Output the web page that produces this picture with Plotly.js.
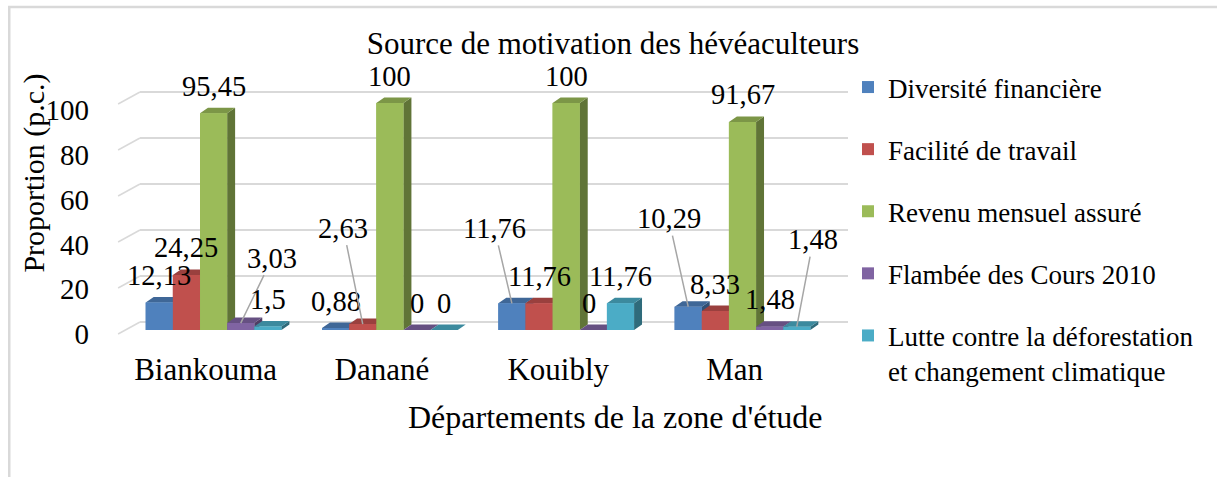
<!DOCTYPE html>
<html>
<head>
<meta charset="utf-8">
<script src="https://cdn.plot.ly/plotly-3.0.1.min.js"></script>
<style>
  html, body { margin: 0; padding: 0; background: #fff; }
  #chart { width: 1217px; height: 477px; }
</style>
</head>
<body>
<div id="chart"></div>
<script>
// ---------- DATA ----------
const categories = ['Biankouma', 'Danané', 'Kouibly', 'Man'];
const seriesNames = [
  'Diversité financière',
  'Facilité de travail',
  'Revenu mensuel assuré',
  'Flambée des Cours 2010',
  'Lutte contre la déforestation<br>et changement climatique'
];
const diversiteFinanciere = [12.13, 0.88, 11.76, 10.29];
const faciliteTravail     = [24.25, 2.63, 11.76, 8.33];
const revenuMensuel       = [95.45, 100, 100, 91.67];
const flambeeCours        = [3.03, 0, 0, 1.48];
const lutteDeforestation  = [1.5, 0, 11.76, 1.48];
const yTickValues = [0, 20, 40, 60, 80, 100];

const chartTitle = 'Source de motivation des hévéaculteurs';
const xTitle = "Départements de la zone d'étude";
const yTitle = 'Proportion (p.c.)';

// ---------- STYLE ----------
const seriesValues = [diversiteFinanciere, faciliteTravail, revenuMensuel, flambeeCours, lutteDeforestation];
const colors = ['#4F81BD', '#C0504D', '#9BBB59', '#8064A2', '#4BACC6'];
const FONT = 'Liberation Serif';

// pixel geometry of plot area
const W = 1217, H = 477;
const PL = 140, PR = 852, PT = 85, PB = 340;
const plotW = PR - PL, plotH = PB - PT;
const catPx = 177.3;          // px per category
const yPx = 2.27;             // px per unit (front faces)
const zeroPx = 330;           // front baseline
const xRange = [-(214 - PL) / catPx, -(214 - PL) / catPx + plotW / catPx];
const yRange = [-(PB - zeroPx) / yPx, (zeroPx - PT) / yPx];
// back wall grid axis
const gPx = 2.3, gZero = 322;
const y2Range = [-(PB - gZero) / gPx, (gZero - PT) / gPx];
// tick label axis
const lPx = 2.24, lZero = 334;
const y3Range = [-(PB - lZero) / lPx, (lZero - PT) / lPx];
// category label axis (shifted 8px left)
const x2Start = -(206 - PL) / catPx;
const x2Range = [x2Start, x2Start + plotW / catPx];

const nS = seriesValues.length;
const bargap = 0.23;
const barW = (1 - bargap) / nS;
const depthX = 8 / catPx;
const depthY = 5.5 / yPx;

function shade(hex, f) {
  const n = parseInt(hex.slice(1), 16);
  const r = Math.round(((n >> 16) & 255) * f);
  const g = Math.round(((n >> 8) & 255) * f);
  const b = Math.round((n & 255) * f);
  return `rgb(${r},${g},${b})`;
}
const px2paperX = p => (p - PL) / plotW;
const px2paperY = p => (PB - p) / plotH;

const xIdx = categories.map((c, i) => i);

const traces = [];
// bar traces (legend + base)
seriesValues.forEach((vals, j) => {
  traces.push({
    type: 'bar', x: xIdx, y: vals, name: seriesNames[j],
    marker: { color: colors[j], line: { width: 0 } },
    legendgroup: 'g' + j, hovertext: categories, hoverinfo: 'text+y',
    xaxis: 'x', yaxis: 'y'
  });
});
// pseudo-3D faces drawn over, in depth order
seriesValues.forEach((vals, j) => {
  const side = { x: [], y: [] }, top = { x: [], y: [] }, front = { x: [], y: [] };
  vals.forEach((v, i) => {
    const xl = i - (1 - bargap) / 2 + j * barW;
    const xr = xl + barW;
    side.x.push(xr, xr, xr + depthX, xr + depthX, xr, null);
    side.y.push(0, v, v + depthY, depthY, 0, null);
    top.x.push(xl, xr, xr + depthX, xl + depthX, xl, null);
    top.y.push(v, v, v + depthY, v + depthY, v, null);
    front.x.push(xl, xr, xr, xl, xl, null);
    front.y.push(0, 0, v, v, 0, null);
  });
  [[side, shade(colors[j], 0.62)], [top, shade(colors[j], 0.8)], [front, colors[j]]].forEach(([p, c]) => {
    traces.push({
      type: 'scatter', mode: 'lines', x: p.x, y: p.y, fill: 'toself',
      fillcolor: c, line: { width: 0, color: c }, showlegend: false,
      hoverinfo: 'skip', xaxis: 'x', yaxis: 'y'
    });
  });
});
// dummy traces to activate overlay axes
traces.push({ type: 'scatter', x: [0], y: [50], mode: 'markers', marker: { opacity: 0 },
  showlegend: false, hoverinfo: 'skip', xaxis: 'x', yaxis: 'y2' });
traces.push({ type: 'scatter', x: [0], y: [50], mode: 'markers', marker: { opacity: 0 },
  showlegend: false, hoverinfo: 'skip', xaxis: 'x2', yaxis: 'y3' });

// data labels
const leaderOffsets = {
  '3-0': [31.5, -65],
  '1-1': [-19.5, -96],
  '0-2': [-17.5, -75],
  '0-3': [-19.5, -88],
  '4-3': [16.5, -87]
};
const labelXShift = { '3-2': -4 };
const annotations = [];
seriesValues.forEach((vals, j) => {
  vals.forEach((v, i) => {
    const xc = i - (1 - bargap) / 2 + (j + 0.5) * barW;
    const txt = String(v).replace('.', ',');
    const key = j + '-' + i;
    const off = leaderOffsets[key];
    const a = {
      x: xc, y: v, xref: 'x', yref: 'y', text: txt,
      font: { family: FONT, size: 28.5, color: '#000' }
    };
    if (off) {
      Object.assign(a, { showarrow: true, arrowhead: 0, arrowwidth: 1.5, arrowcolor: '#a6a6a6',
        ax: off[0], ay: off[1], axref: 'pixel', ayref: 'pixel', standoff: 0 });
    } else {
      Object.assign(a, { showarrow: false, yanchor: 'middle', xanchor: 'center', yshift: 27,
        xshift: labelXShift[key] || 0 });
    }
    annotations.push(a);
  });
});
annotations.push({
  text: xTitle, xref: 'paper', yref: 'paper', x: px2paperX(618), y: px2paperY(417),
  showarrow: false, xanchor: 'center', yanchor: 'middle', font: { family: FONT, size: 32, color: '#000' }
});
annotations.push({
  text: yTitle, xref: 'paper', yref: 'paper', x: px2paperX(33), y: px2paperY(173), textangle: -90,
  showarrow: false, xanchor: 'center', yanchor: 'middle', font: { family: FONT, size: 30, color: '#000' }
});

// decorative shapes: frame + side-wall grid slants
const shapes = [];
shapes.push({
  type: 'path', xref: 'paper', yref: 'paper', layer: 'below',
  path: `M ${px2paperX(8.5)} ${px2paperY(490)} L ${px2paperX(8.5)} ${px2paperY(7)} L ${px2paperX(1230)} ${px2paperY(7)}`,
  line: { color: '#d9d9d9', width: 2.5 }
});
yTickValues.forEach(v => {
  const yp = gZero - gPx * v;
  shapes.push({
    type: 'line', xref: 'paper', yref: 'paper', layer: 'below',
    x0: px2paperX(118), y0: px2paperY(yp + 12), x1: px2paperX(PL), y1: px2paperY(yp),
    line: { color: '#d9d9d9', width: 1.5 }
  });
});

const layout = {
  width: W, height: H,
  margin: { l: PL, r: W - PR, t: PT, b: H - PB, pad: 0 },
  paper_bgcolor: '#fff', plot_bgcolor: 'rgba(0,0,0,0)',
  font: { family: FONT, color: '#000' },
  barmode: 'group', bargap: bargap, bargroupgap: 0,
  showlegend: true,
  title: {
    text: chartTitle, font: { family: FONT, size: 31, color: '#000' },
    xref: 'container', yref: 'container', x: 613 / W, y: 1 - 43 / H,
    xanchor: 'center', yanchor: 'middle'
  },
  xaxis: { type: 'linear', range: xRange, showgrid: false, zeroline: false,
    showticklabels: false, ticks: '', showline: false, fixedrange: true },
  xaxis2: { type: 'linear', range: x2Range, overlaying: 'x', anchor: 'y3', side: 'bottom',
    tickvals: xIdx, ticktext: categories, showgrid: false, zeroline: false, showline: false,
    ticks: '', ticklabelstandoff: 8, tickfont: { family: FONT, size: 31, color: '#000' } },
  yaxis: { range: yRange, showgrid: false, zeroline: false, showticklabels: false,
    ticks: '', showline: false, fixedrange: true },
  yaxis2: { range: y2Range, overlaying: 'y', anchor: 'x', tickvals: yTickValues,
    showticklabels: false, showgrid: true, gridcolor: '#d9d9d9', gridwidth: 1.5,
    zeroline: false, ticks: '', showline: false },
  yaxis3: { range: y3Range, overlaying: 'y', anchor: 'x2', side: 'left', tickvals: yTickValues,
    showgrid: false, zeroline: false, ticks: '', showline: false, ticklabelstandoff: 50,
    tickfont: { family: FONT, size: 29, color: '#000' } },
  legend: {
    xref: 'container', yref: 'container', x: 848 / W, y: 1 - 63 / H,
    xanchor: 'left', yanchor: 'top', traceorder: 'grouped', tracegroupgap: 24,
    valign: 'top', font: { family: FONT, size: 27, color: '#000' },
    bgcolor: 'rgba(0,0,0,0)', borderwidth: 0, maxheight: 420
  },
  annotations: annotations,
  shapes: shapes
};

Plotly.newPlot('chart', traces, layout, { displayModeBar: false, staticPlot: true });
</script>
</body>
</html>
